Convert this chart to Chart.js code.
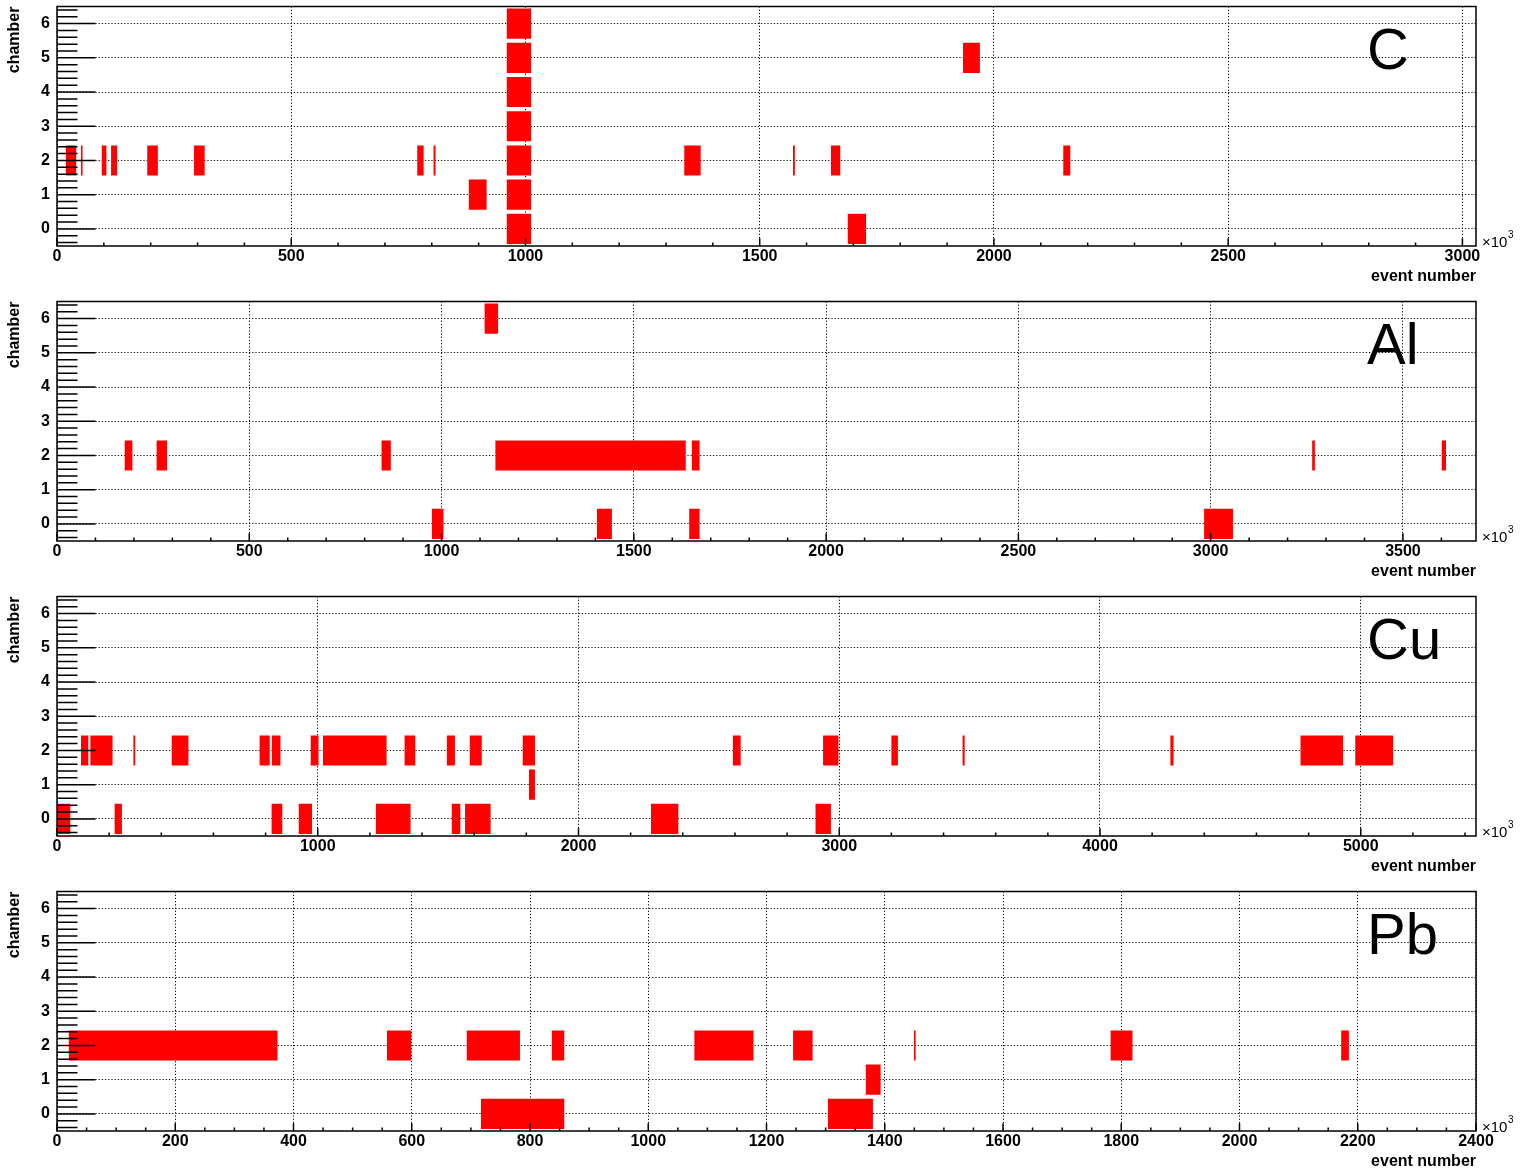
<!DOCTYPE html>
<html><head><meta charset="utf-8">
<script src="https://cdn.jsdelivr.net/npm/chart.js@4.4.0/dist/chart.umd.min.js"></script>
<style>
html,body{margin:0;padding:0;background:#fff;overflow:hidden;width:1534px;height:1176px}
.panel{position:absolute;left:0;width:1534px;height:295px}
canvas{display:block}
</style></head><body>
<div class="panel" style="top:0px"><canvas id="p0" width="1534" height="295"></canvas></div>
<div class="panel" style="top:295px"><canvas id="p1" width="1534" height="295"></canvas></div>
<div class="panel" style="top:590px"><canvas id="p2" width="1534" height="295"></canvas></div>
<div class="panel" style="top:885px"><canvas id="p3" width="1534" height="295"></canvas></div>
<script>
// ---- data (event number in units of 10^3) ----
const chamberTicks = [0, 1, 2, 3, 4, 5, 6];

const C_xTicks  = [0, 500, 1000, 1500, 2000, 2500, 3000];
const C_chamber = [2, 2, 2, 2, 2, 2, 2, 2, 2, 2, 2, 2, 2, 1, 1, 0, 0, 3, 4, 5, 5, 6];
const C_start   = [19, 51, 95.6, 115.4, 192.6, 292.5, 769, 803.8, 960, 1339, 1571, 1652, 2148, 879, 960, 960, 1688, 960, 960, 960, 1934, 960];
const C_end     = [41, 54.5, 105.5, 128.2, 215.3, 315.2, 782.6, 808, 1012, 1374, 1575, 1672, 2163, 917, 1012, 1012, 1727, 1012, 1012, 1012, 1970, 1012];

const Al_xTicks  = [0, 500, 1000, 1500, 2000, 2500, 3000, 3500];
const Al_chamber = [2, 2, 2, 2, 2, 2, 2, 0, 0, 0, 0, 6];
const Al_start   = [176, 259, 844, 1140, 1651, 3264, 3601, 975, 1404, 1644, 2983, 1112];
const Al_end     = [196, 286, 868, 1635, 1671, 3271, 3612, 1005, 1443, 1671, 3058, 1147];

const Cu_xTicks  = [0, 1000, 2000, 3000, 4000, 5000];
const Cu_chamber = [2, 2, 2, 2, 2, 2, 2, 2, 2, 2, 2, 2, 2, 2, 2, 2, 2, 2, 2, 1, 0, 0, 0, 0, 0, 0, 0, 0, 0];
const Cu_start   = [92, 128, 293, 440, 777, 824, 973, 1020, 1333, 1495, 1583, 1786, 2592, 2938, 3200, 3473, 4270, 4769, 4979, 1810, 0, 221, 823, 927, 1223, 1514, 1565, 2278, 2909];
const Cu_end     = [120, 213, 300, 504, 816, 857, 1003, 1264, 1374, 1526, 1629, 1833, 2622, 2997, 3225, 3481, 4282, 4932, 5124, 1833, 51, 249, 864, 978, 1356, 1547, 1663, 2383, 2968];

const Pb_xTicks  = [0, 200, 400, 600, 800, 1000, 1200, 1400, 1600, 1800, 2000, 2200, 2400];
const Pb_chamber = [2, 2, 2, 2, 2, 2, 2, 2, 2, 1, 0, 0];
const Pb_start   = [20, 558, 693, 837, 1078, 1245, 1449.5, 1782, 2172, 1368, 717, 1304];
const Pb_end     = [373, 599, 783, 858, 1178, 1278, 1452.3, 1819, 2185, 1393, 858, 1380];

const panels = [
  {id: 'p0', label: 'C',  xmax: 3029, xTicks: C_xTicks,  minor: 100, chamber: C_chamber,  start: C_start,  end: C_end},
  {id: 'p1', label: 'Al', xmax: 3690, xTicks: Al_xTicks, minor: 100, chamber: Al_chamber, start: Al_start, end: Al_end},
  {id: 'p2', label: 'Cu', xmax: 5442, xTicks: Cu_xTicks, minor: 200, chamber: Cu_chamber, start: Cu_start, end: Cu_end},
  {id: 'p3', label: 'Pb', xmax: 2400, xTicks: Pb_xTicks, minor: 50,  chamber: Pb_chamber, start: Pb_start, end: Pb_end}
];

const FONT = "'Liberation Sans', Arial, Helvetica, sans-serif";

function decor(cfg) {
  return {
    id: 'decor',
    afterDatasetsDraw(chart) {
      const {ctx, chartArea: a, scales: {x, y}} = chart;
      ctx.save();
      ctx.strokeStyle = '#000';
      ctx.lineWidth = 1.5;
      ctx.beginPath();
      // y ticks (inward, major at integers, minor every 0.2)
      for (let k = -2; k <= 32; k++) {
        const v = k * 0.2;
        const py = y.getPixelForValue(v);
        const major = (k % 5 === 0);
        ctx.moveTo(a.left, py);
        ctx.lineTo(a.left + (major ? 38.5 : 20.5), py);
      }
      // x ticks (inward from bottom)
      const n = Math.floor(cfg.xmax / cfg.minor + 1e-9);
      for (let k = 0; k <= n; k++) {
        const v = k * cfg.minor;
        const px = x.getPixelForValue(v);
        const major = cfg.xTicks.indexOf(v) >= 0;
        ctx.moveTo(px, a.bottom);
        ctx.lineTo(px, a.bottom - (major ? 7.7 : 3.5));
      }
      ctx.stroke();
      // frame
      ctx.lineWidth = 1.5;
      ctx.strokeRect(a.left, a.top, a.right - a.left, a.bottom - a.top);
      // big material label
      ctx.fillStyle = '#000';
      ctx.font = "58px " + FONT;
      ctx.textBaseline = 'alphabetic';
      ctx.textAlign = 'left';
      ctx.fillText(cfg.label, 1367, 68.5);
      // x10^3
      ctx.font = "15px " + FONT;
      ctx.fillText('\u00d710', 1482, 246.5);
      const w = ctx.measureText('\u00d710').width;
      ctx.font = "10px " + FONT;
      ctx.fillText('3', 1482 + w + 0.5, 238);
      ctx.restore();
    }
  };
}

function makePanel(cfg) {
  const data = cfg.chamber.map((c, i) => ({x: [cfg.start[i], cfg.end[i]], y: c}));
  new Chart(document.getElementById(cfg.id), {
    type: 'bar',
    data: {datasets: [{
      data: data,
      backgroundColor: '#ff0000',
      borderWidth: 0,
      borderSkipped: false,
      barPercentage: 0.88,
      categoryPercentage: 1.0
    }]},
    options: {
      indexAxis: 'y',
      responsive: false,
      animation: false,
      devicePixelRatio: 1,
      layout: {padding: {top: 6.5, right: 58, left: 0, bottom: 0}},
      plugins: {legend: {display: false}, tooltip: {enabled: false}},
      scales: {
        x: {
          type: 'linear', position: 'bottom', min: 0, max: cfg.xmax,
          afterBuildTicks: s => { s.ticks = cfg.xTicks.map(v => ({value: v})); },
          afterFit: s => { s.height = 49; s.paddingLeft = 0; s.paddingRight = 0; },
          grid: {color: '#000', lineWidth: 1, drawTicks: false, offset: false},
          border: {display: false, dash: [1.2, 2]},
          ticks: {
            font: {family: FONT, size: 16, weight: 'bold'}, color: '#000',
            padding: 1, maxRotation: 0, autoSkip: false,
            callback: v => String(v)
          },
          title: {
            display: true, text: 'event number', align: 'end', color: '#000',
            font: {family: FONT, size: 16, weight: 'bold'},
            padding: {top: 0, bottom: 8.4}
          }
        },
        y: {
          type: 'linear', position: 'left', min: -0.5, max: 6.5, offset: false,
          afterBuildTicks: s => { s.ticks = chamberTicks.map(v => ({value: v})); },
          afterFit: s => { s.width = 57; s.paddingTop = 0; s.paddingBottom = 0; },
          grid: {color: '#000', lineWidth: 1, drawTicks: false, offset: false},
          border: {display: false, dash: [1.2, 2]},
          ticks: {
            font: {family: FONT, size: 16, weight: 'bold'}, color: '#000',
            padding: 7, autoSkip: false,
            callback: v => String(v)
          },
          title: {
            display: true, text: 'chamber', align: 'end', color: '#000',
            font: {family: FONT, size: 16, weight: 'bold'},
            padding: {top: 5.4, bottom: 0}
          }
        }
      }
    },
    plugins: [decor(cfg)]
  });
}

panels.forEach(makePanel);
</script>
</body></html>
